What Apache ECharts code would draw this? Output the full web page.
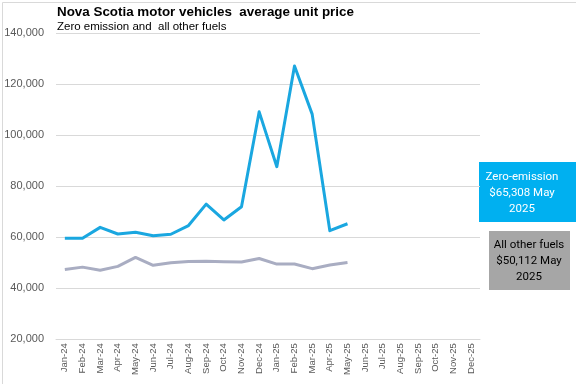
<!DOCTYPE html>
<html>
<head>
<meta charset="utf-8">
<script src="https://cdn.jsdelivr.net/npm/echarts@6/dist/echarts.min.js"></script>
<style>
  html, body { margin: 0; padding: 0; background: #ffffff; }
  #chart { width: 576px; height: 384px; }
</style>
</head>
<body>
<div id="chart"></div>
<script>
const categories = ['Jan-24','Feb-24','Mar-24','Apr-24','May-24','Jun-24','Jul-24','Aug-24','Sep-24','Oct-24','Nov-24','Dec-24',
                    'Jan-25','Feb-25','Mar-25','Apr-25','May-25','Jun-25','Jul-25','Aug-25','Sep-25','Oct-25','Nov-25','Dec-25'];
const zeroEmission = [59600, 59600, 63900, 61300, 62000, 60600, 61200, 64600, 73000, 66800, 72000, 109200,
                      87700, 127200, 108300, 62600, 65308];
const otherFuels = [47400, 48300, 47100, 48600, 52100, 49000, 50000, 50500, 50600, 50400, 50300, 51700,
                    49500, 49500, 47700, 49100, 50112];
const yTicks = { min: 20000, max: 140000, interval: 20000 };
const title = 'Nova Scotia motor vehicles  average unit price';
const subtitle = 'Zero emission and  all other fuels';
const zeroLabel = ['Zero-emission', '$65,308 May', '2025'];
const otherLabel = ['All other fuels', '$50,112 May', '2025'];

const chart = echarts.init(document.getElementById('chart'), null, { renderer: 'canvas' });
const font = 'Liberation Sans, Arial, sans-serif';
const boxFont = 'Roboto, Liberation Sans, sans-serif';
chart.setOption({
  backgroundColor: '#ffffff',
  animation: false,
  title: [
    { text: title, left: 57, top: 6, padding: 0, textStyle: { fontFamily: font, fontSize: 13.4, fontWeight: 'bold', color: '#000000' } },
    { text: subtitle, left: 57, top: 21, padding: 0, textStyle: { fontFamily: font, fontSize: 11.5, fontWeight: 'normal', color: '#000000' } }
  ],
  grid: { left: 56, right: 96, top: 33.3, bottom: 44.7, containLabel: false },
  xAxis: {
    type: 'category',
    data: categories,
    boundaryGap: true,
    axisLine: { show: true, lineStyle: { color: '#D9D9D9', width: 1 } },
    axisTick: { show: false },
    axisLabel: { rotate: 90, interval: 0, fontFamily: font, fontSize: 9.5, color: '#595959', margin: 4 }
  },
  yAxis: {
    type: 'value',
    min: yTicks.min, max: yTicks.max, interval: yTicks.interval,
    axisLine: { show: false },
    axisTick: { show: false },
    splitLine: { lineStyle: { color: '#D9D9D9', width: 1 } },
    axisLabel: { fontFamily: font, fontSize: 11, color: '#595959', margin: 12,
      formatter: v => v.toLocaleString('en-US') }
  },
  series: [
    { name: 'Zero-emission', type: 'line', data: zeroEmission, symbol: 'none',
      lineStyle: { color: '#1AA7E0', width: 3, join: 'round' }, z: 3 },
    { name: 'All other fuels', type: 'line', data: otherFuels, symbol: 'none',
      lineStyle: { color: '#A9ADC2', width: 3, join: 'round' }, z: 2 }
  ],
  graphic: [
    { type: 'rect', left: 0, top: 0, shape: { x: 0.5, y: 0.5, width: 575, height: 383 },
      style: { fill: 'none', stroke: '#D9D9D9', lineWidth: 1 }, silent: true },
    { type: 'rect', shape: { x: 479, y: 162, width: 97, height: 60 }, style: { fill: '#00B0F0' } },
    { type: 'text', x: 522, y: 193, style: { text: zeroLabel.join('\n'), fill: '#ffffff', font: '11.5px ' + boxFont,
      align: 'center', verticalAlign: 'middle', lineHeight: 16 } },
    { type: 'rect', shape: { x: 489, y: 231, width: 81, height: 59 }, style: { fill: '#A6A6A6' } },
    { type: 'text', x: 529, y: 261, style: { text: otherLabel.join('\n'), fill: '#000000', font: '11.5px ' + boxFont,
      align: 'center', verticalAlign: 'middle', lineHeight: 16 } }
  ]
});
</script>
</body>
</html>
